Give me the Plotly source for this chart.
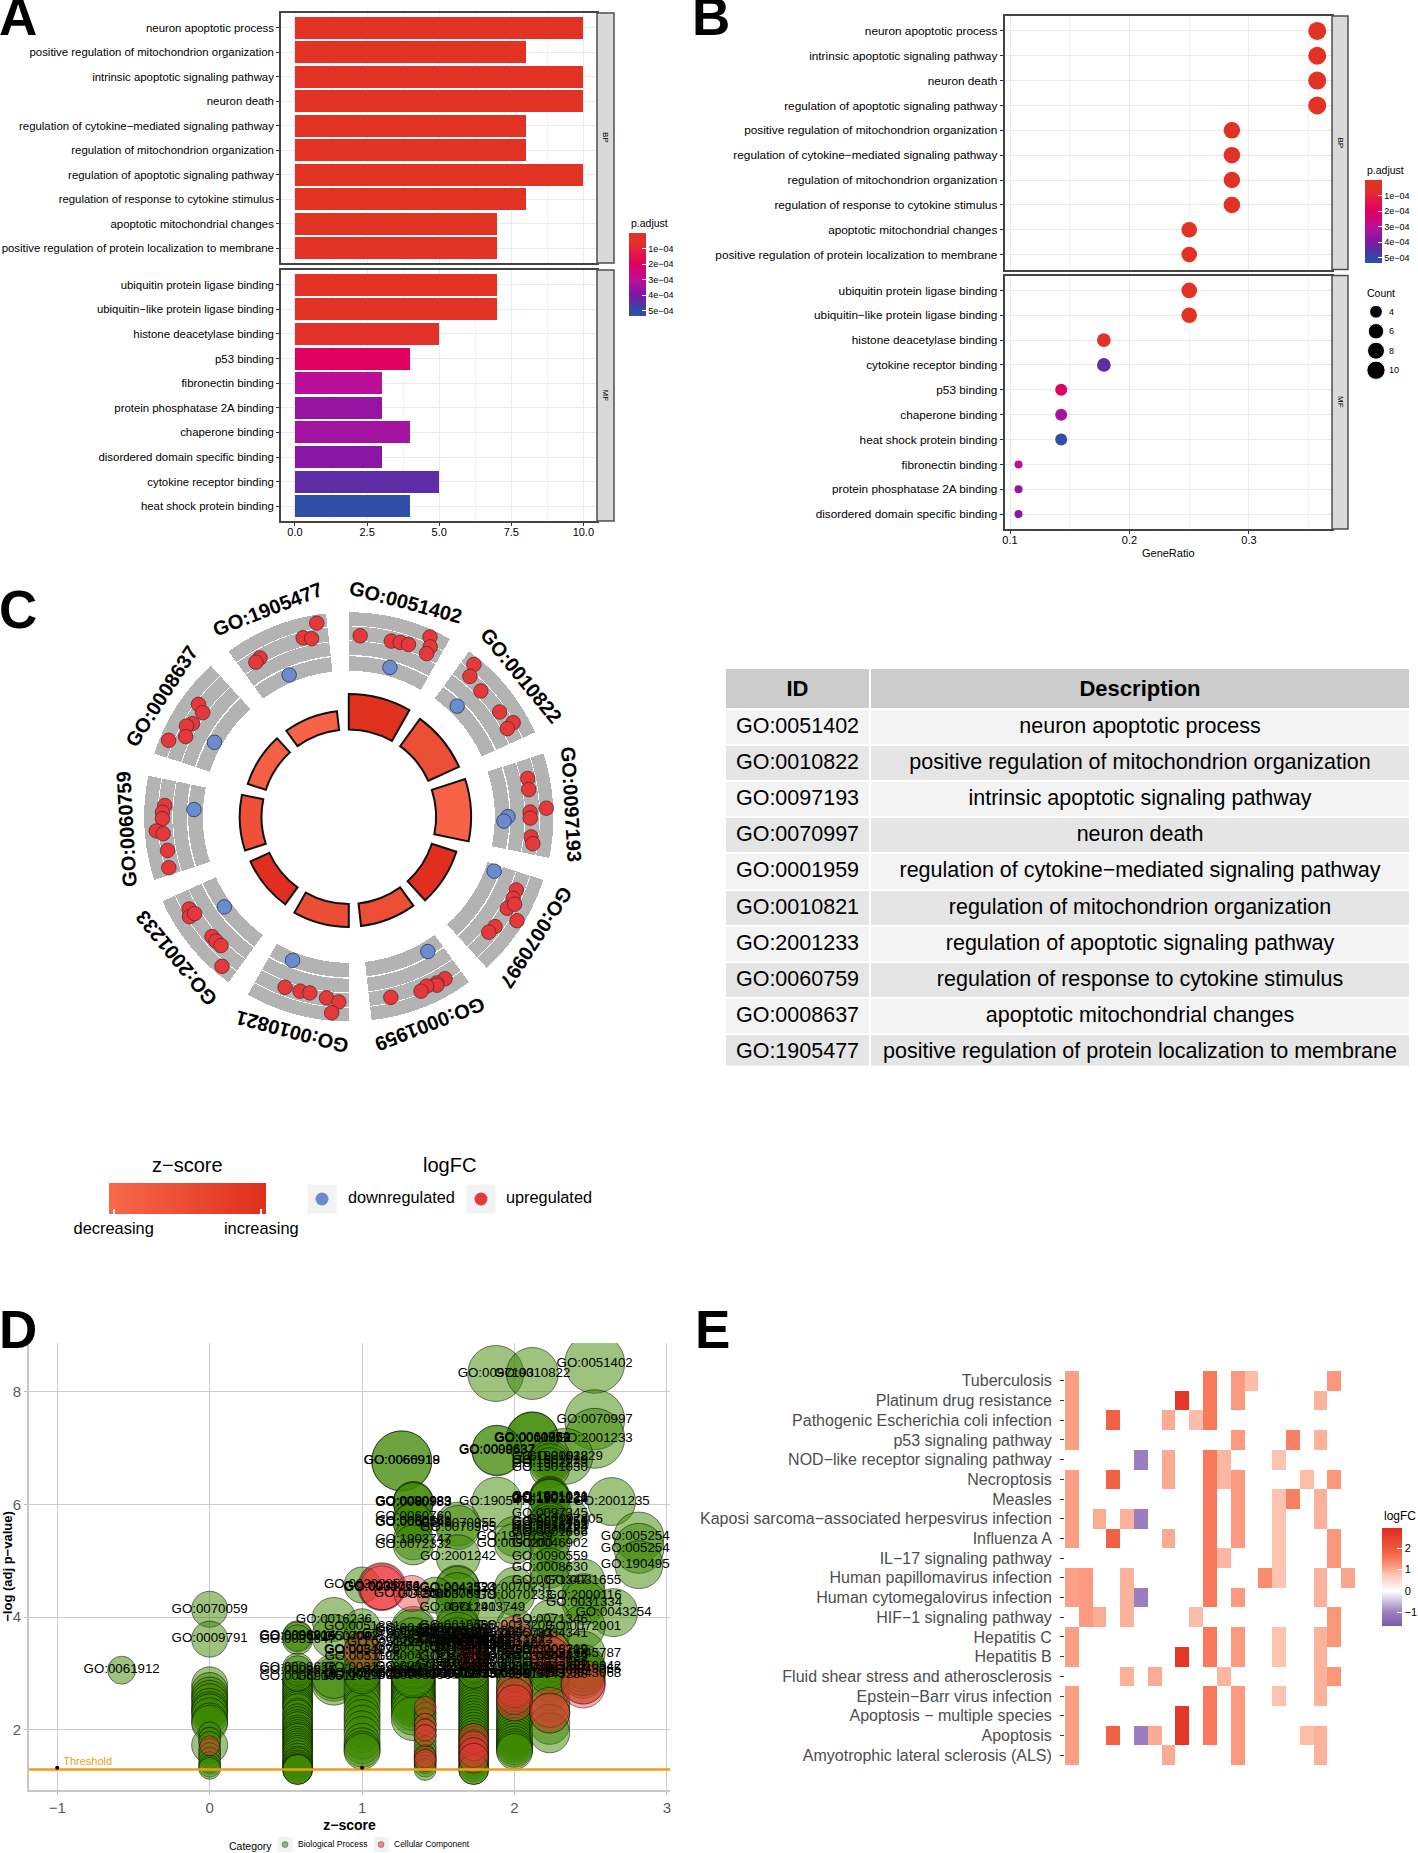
import numpy as np
import plotly.graph_objects as go

W, H = 1418, 1853
FONT = "Liberation Sans"

# ---------- panel A / B data ----------
a_bp_terms = ["neuron apoptotic process", "positive regulation of mitochondrion organization",
              "intrinsic apoptotic signaling pathway", "neuron death",
              "regulation of cytokine\u2212mediated signaling pathway", "regulation of mitochondrion organization",
              "regulation of apoptotic signaling pathway", "regulation of response to cytokine stimulus",
              "apoptotic mitochondrial changes", "positive regulation of protein localization to membrane"]
a_bp_count = [10, 8, 10, 10, 8, 8, 10, 8, 7, 7]
a_bp_padj = [2e-6, 3e-6, 3e-6, 3e-6, 5e-6, 5e-6, 6e-6, 8e-6, 1e-5, 1e-5]
a_mf_terms = ["ubiquitin protein ligase binding", "ubiquitin\u2212like protein ligase binding",
              "histone deacetylase binding", "p53 binding", "fibronectin binding",
              "protein phosphatase 2A binding", "chaperone binding", "disordered domain specific binding",
              "cytokine receptor binding", "heat shock protein binding"]
a_mf_count = [7, 7, 5, 4, 3, 3, 4, 3, 5, 4]
a_mf_padj = [1.2e-5, 1.2e-5, 6e-5, 2e-4, 3e-4, 3.6e-4, 3.4e-4, 3.8e-4, 4.4e-4, 5.3e-4]

b_bp_terms = ["neuron apoptotic process", "intrinsic apoptotic signaling pathway", "neuron death",
              "regulation of apoptotic signaling pathway", "positive regulation of mitochondrion organization",
              "regulation of cytokine\u2212mediated signaling pathway", "regulation of mitochondrion organization",
              "regulation of response to cytokine stimulus", "apoptotic mitochondrial changes",
              "positive regulation of protein localization to membrane"]
b_bp_count = [10, 10, 10, 10, 8, 8, 8, 8, 7, 7]
b_bp_padj = [2e-6, 3e-6, 3e-6, 6e-6, 3e-6, 5e-6, 5e-6, 8e-6, 1e-5, 1e-5]
b_mf_terms = ["ubiquitin protein ligase binding", "ubiquitin\u2212like protein ligase binding",
              "histone deacetylase binding", "cytokine receptor binding", "p53 binding", "chaperone binding",
              "heat shock protein binding", "fibronectin binding", "protein phosphatase 2A binding",
              "disordered domain specific binding"]
b_mf_count = [7, 7, 5, 5, 4, 4, 4, 3, 3, 3]
b_mf_padj = [1.2e-5, 1.2e-5, 6e-5, 4.4e-4, 2e-4, 3.4e-4, 5.3e-4, 3e-4, 3.6e-4, 3.8e-4]
gene_total = 28
count_legend = ["4", "6", "8", "10"]
padj_ticks = [1e-4, 2e-4, 3e-4, 4e-4, 5e-4]
padj_ticktext = ["1e\u221204", "2e\u221204", "3e\u221204", "4e\u221204", "5e\u221204"]

# ---------- panel C data ----------
go_ids = ["GO:0051402", "GO:0010822", "GO:0097193", "GO:0070997", "GO:0001959",
          "GO:0010821", "GO:2001233", "GO:0060759", "GO:0008637", "GO:1905477"]
go_desc = ["neuron apoptotic process", "positive regulation of mitochondrion organization",
           "intrinsic apoptotic signaling pathway", "neuron death",
           "regulation of cytokine\u2212mediated signaling pathway", "regulation of mitochondrion organization",
           "regulation of apoptotic signaling pathway", "regulation of response to cytokine stimulus",
           "apoptotic mitochondrial changes", "positive regulation of protein localization to membrane"]
sector_height = [35.4, 33.7, 35.0, 25.8, 22.5, 22.8, 20.8, 21.8, 19.0, 19.0]
sector_zscore = [0.95, 0.45, 0.10, 0.98, 0.45, 0.47, 0.98, 0.40, 0.15, 0.10]
up_theta = [3.6, 13.6, 16.4, 19.1, 24.3, 25.6, 25.5,
            39.4, 40.8, 46.4, 55.2, 60.2, 60.9,
            77.9, 81.4, 87.5, 88.5, 90.4, 96.3, 98.3,
            113.6, 116.4, 120, 117.8, 121.7, 126.9, 129.5,
            149.3, 152.1, 152.4, 155.3, 157.5, 166.9,
            200.5, 195.6, 192.5, 187, 183.1, 185,
            240, 237.9, 237.9, 228.8, 226.9, 224.8, 220.3,
            273.5, 271.4, 269.4, 265.8, 264.8, 259.5, 254.2,
            306.8, 305.5, 300.8, 299.2, 296.2, 293,
            350.6, 345.7, 348.2, 330.8, 329]
up_r = [181.4, 180.8, 181.8, 182.4, 197.3, 188.4, 180.8,
        197, 185.4, 182.4, 183.7, 189.4, 181.4,
        183, 182, 197.7, 181.4, 181.4, 183.4, 186,
        182.8, 183.4, 183, 187.4, 197.7, 182.8, 181.4,
        188.4, 188, 190, 186.4, 188.7, 185.4,
        182, 181, 180.4, 182.4, 185.4, 196.7,
        184.4, 188, 182, 181.8, 181.8, 181.4, 196,
        184.4, 186.4, 186.4, 193, 186.4, 184.4, 187,
        187.7, 179.4, 182, 186, 181.8, 195.7,
        196.4, 184.7, 182, 182, 180.4]
down_theta = [15.4, 44.4, 89.9, 91.6, 110.5, 149.6, 201.4, 234.1, 272.7, 299, 337.2]
down_r = [154.9, 154.9, 159.2, 155.2, 155.2, 156.2, 154.2, 153.6, 155, 153.6, 153.9]

# ---------- panel D data ----------
bp_ids = ["GO:0051402", "GO:0097193", "GO:0010822", "GO:0070997", "GO:2001233", "GO:0010821", "GO:0001959", "GO:0060759",
          "GO:0008637", "GO:0090637", "GO:0066918", "GO:0060919", "GO:2001229", "GO:1901028", "GO:1901029", "GO:1902229", "GO:1901030",
          "GO:0090983", "GO:0090989", "GO:0060983", "GO:1905475", "GO:1901021", "GO:1901026", "GO:1901222", "GO:1901224", "GO:2001235",
          "GO:0097345", "GO:0097805", "GO:0071456", "GO:0071453", "GO:0036293", "GO:0036294", "GO:0070482", "GO:0001666",
          "GO:0060760", "GO:0060561", "GO:0060548", "GO:1903747", "GO:0072332", "GO:0070955", "GO:0070965", "GO:2001242",
          "GO:1900739", "GO:0090200", "GO:0046902", "GO:0090559", "GO:0008630", "GO:0052548", "GO:0052547", "GO:1904950",
          "GO:0030225", "GO:0043523", "GO:0043524", "GO:0006979", "GO:2000378", "GO:0071241", "GO:1903749", "GO:0070231", "GO:0070233",
          "GO:0031655", "GO:0071347", "GO:2000116", "GO:0031334", "GO:0043254", "GO:0072001", "GO:0071346", "GO:0034341", "GO:0045787",
          "GO:0070059", "GO:0009791", "GO:0061912", "GO:0016236", "GO:0051881",
          "GO:0006914", "GO:0006915", "GO:0031647", "GO:0008622", "GO:0008625", "GO:0006919",
          "GO:0050709", "GO:0051172", "GO:0042149", "GO:0034976", "GO:0051193", "GO:0031398", "GO:0050701", "GO:0051090",
          "GO:0043409", "GO:0043122", "GO:0072593", "GO:0051092", "GO:0043123", "GO:0007159", "GO:0042176", "GO:0006986",
          "GO:0010506", "GO:0070301", "GO:0032271", "GO:0071363", "GO:0051604", "GO:1900180", "GO:0006521", "GO:0030162", "GO:0035966",
          "GO:0051341", "GO:0034599", "GO:0097190", "GO:0042542", "GO:0033209", "GO:0071222", "GO:0034097", "GO:0071345", "GO:1901989", "GO:0044772",
          "GO:0010942", "GO:0043065", "GO:0043068", "GO:0008219", "GO:0006839", "GO:0032956", "GO:0043281", "GO:2001056", "GO:0043280",
          "GO:0010951", "GO:0052548", "GO:0045862", "GO:0002237", "GO:0071219", "GO:0032496", "GO:0031396", "GO:0033157",
          "GO:0018105", "GO:0051726", "GO:0045926", "GO:0016241", "GO:0031667", "GO:0009617", "GO:0051222", "GO:0090316",
          "GO:0051223", "GO:0010038", "GO:0010564", "GO:0006417", "GO:0034248", "GO:0009991", "GO:0042594", "GO:0001959"]
bp_z = [2.526, 1.877, 2.117, 2.526, 2.526, 2.117, 2.117, 2.117,
        1.885, 1.885, 1.26, 1.26, 2.33, 2.231, 2.231, 2.231, 2.231,
        1.336, 1.336, 1.336, 1.885, 2.231, 2.231, 2.231, 2.231, 2.637,
        2.231, 2.33, 2.231, 2.231, 2.231, 2.231, 2.231, 2.231,
        1.336, 1.336, 1.336, 1.336, 1.336, 1.63, 1.63, 1.63,
        2.0, 2.0, 2.231, 2.231, 2.231, 2.816, 2.816, 2.816,
        1.0, 1.626, 1.626, 1.626, 1.48, 1.626, 1.82, 2.0, 2.0,
        2.45, 2.231, 2.456, 2.456, 2.65, 2.45, 2.231, 2.231, 2.45,
        0, 0, -0.577, 0.815, 1.0,
        0.577, 0.577, 0.577, 0.577, 0.577, 0.577,
        0.815, 0.815, 1.0, 1.0, 1.0, 1.0, 1.0, 1.0,
        1.336, 1.336, 1.336, 1.336, 1.336, 1.336, 1.336, 1.336,
        1.626, 1.626, 1.626, 1.626, 1.626, 1.626, 1.732, 1.732, 1.732,
        1.732, 1.732, 1.732, 1.732, 2.0, 2.0, 2.0, 2.0, 2.0, 2.0,
        2.45, 2.45, 2.45, 2.231, 2.231, 2.231, 2.231, 2.231, 2.231,
        1.5, 1.5, 1.55, 1.55, 1.6, 1.6, 1.68, 1.68,
        1.78, 1.78, 1.85, 1.85, 1.9, 1.9, 1.95, 1.95,
        1.15, 1.15, 1.25, 1.25, 1.45, 1.45, 1.8, 1.8]
bp_y = [8.50, 8.32, 8.32, 7.50, 7.17, 7.17, 7.17, 7.18,
        6.95, 6.96, 6.77, 6.77, 6.85, 6.85, 6.78, 6.72, 6.65,
        6.04, 6.05, 6.03, 6.04, 6.14, 6.12, 6.10, 6.09, 6.05,
        5.84, 5.72, 5.70, 5.67, 5.62, 5.58, 5.53, 5.50,
        5.78, 5.69, 5.67, 5.37, 5.28, 5.65, 5.59, 5.07,
        5.43, 5.30, 5.30, 5.07, 4.87, 5.42, 5.22, 4.93,
        4.57, 4.53, 4.51, 4.40, 4.39, 4.17, 4.17, 4.53, 4.38,
        4.64, 4.64, 4.38, 4.26, 4.08, 3.83, 3.95, 3.71, 3.36,
        4.14, 3.61, 3.06, 3.96, 3.83,
        3.67, 3.65, 3.60, 3.10, 3.05, 2.95,
        3.66, 2.95, 3.66, 3.42, 3.30, 3.10, 3.00, 2.96,
        3.80, 3.75, 3.60, 3.45, 3.30, 3.12, 3.00, 2.96,
        3.85, 3.80, 3.70, 3.60, 3.45, 3.30, 3.70, 3.60, 3.50,
        3.40, 3.20, 3.10, 3.00, 3.85, 3.60, 3.50, 3.30, 3.10, 3.00,
        3.12, 3.06, 3.00, 3.42, 3.30, 3.20, 3.12, 3.05, 2.98,
        3.75, 3.10, 3.60, 3.00, 3.70, 3.15, 3.55, 2.98,
        3.65, 3.05, 3.50, 3.00, 3.40, 3.10, 3.55, 2.98,
        3.55, 3.00, 3.70, 3.05, 3.55, 2.98, 3.75, 3.25]
bp_count = [15, 14, 13, 15, 15, 13, 13, 13,
            12.5, 12.5, 15, 15, 14, 10, 10, 10, 10,
            10, 10, 10, 12.5, 10, 10, 10, 10, 12,
            11, 12, 10, 10, 10, 10, 10, 10,
            10, 10, 10, 10, 10, 11, 11, 11,
            10, 10, 10, 10, 10, 12.5, 12.5, 12,
            9, 11, 11, 11, 9, 11, 9, 10, 10,
            11, 10, 11, 11, 12, 11, 10, 10, 11,
            9, 9, 7, 11, 9,
            7.5, 7.5, 7.5, 7.5, 7.5, 7.5,
            11, 11, 9, 9, 9, 9, 9, 9,
            11, 11, 11, 11, 11, 11, 11, 11,
            11, 11, 11, 11, 11, 11, 7.5, 7.5, 7.5,
            7.5, 7.5, 7.5, 7.5, 9, 9, 9, 9, 9, 9,
            11, 11, 11, 10, 10, 10, 10, 10, 10,
            6, 6, 6, 6, 6, 6, 6, 6,
            6, 6, 6, 6, 6, 6, 6, 6,
            6, 6, 6, 6, 6, 6, 6, 6]
tail_z = [0, 0, 0.577, 0.815, 1, 1.336, 1.414, 1.732, 2, 2.231, 2.45]
tail_count = [9, 5.5, 7.5, 11, 9, 11, 5.5, 7.5, 9, 10, 11]
tail_y = [
    [2.8, 2.7, 2.62, 2.56, 2.5, 2.42, 2.36, 2.32, 2.25, 2.16, 2.12, 1.73],
    [1.95, 1.85, 1.78, 1.66, 1.58, 1.5, 1.42, 1.36, 1.32],
    [2.9, 2.85, 2.82, 2.75, 2.7, 2.66, 2.6, 2.55, 2.5, 2.46, 2.42, 2.38, 2.3, 2.27, 2.2, 2.15, 2.1, 2.06, 2.0,
     1.96, 1.92, 1.88, 1.85, 1.8, 1.76, 1.72, 1.68, 1.64, 1.6, 1.55, 1.5, 1.45, 1.42, 1.38, 1.35, 1.32, 1.3, 1.3],
    [2.9, 2.83],
    [2.9, 2.82, 2.75, 2.68, 2.6, 2.52, 2.42, 2.3, 2.22, 2.12, 2.02, 1.92, 1.8, 1.72, 1.66, 1.62],
    [2.9, 2.84, 2.78, 2.72, 2.66, 2.6, 2.55, 2.5, 2.45, 2.38, 2.3, 2.2],
    [2.3, 2.2, 2.1, 2.0, 1.9, 1.8, 1.7, 1.62, 1.55, 1.48, 1.42, 1.36, 1.3],
    [2.9, 2.84, 2.78, 2.72, 2.66, 2.6, 2.55, 2.5, 2.45, 2.4, 2.35, 2.3, 2.25, 2.2, 2.15, 2.1, 2.05, 2.0, 1.95, 1.9,
     1.85, 1.8, 1.75, 1.7, 1.65, 1.6, 1.55, 1.5, 1.45, 1.4, 1.35, 1.3, 1.3],
    [2.9, 2.8, 2.7, 2.6, 2.5, 2.42, 2.35, 2.28, 2.2, 2.14, 2.08, 2.02, 1.96, 1.9, 1.85, 1.8, 1.75, 1.7, 1.66, 1.62],
    [2.85, 2.7, 2.5, 2.3, 2.1, 1.95],
    [2.95, 2.85],
]
cc_ids = ["GO:0034774", "GO:0005766", "GO:0031093", "GO:0042581", "GO:0051179", "GO:0030141", "GO:0031983", "GO:0060205", "GO:0098791",
          "GO:0005783", "GO:0005789", "GO:0044429"]
cc_z = [1.13, 1.13, 1.13, 1.327, 1.0, 1.732, 1.732, 1.732, 1.732, 2.0, 2.231, 2.231]
cc_y = [4.54, 4.54, 4.52, 4.42, 3.40, 3.55, 3.45, 3.35, 3.25, 3.70, 3.40, 3.30]
cc_count = [12, 11.5, 11, 9, 9, 7.5, 7.5, 7.5, 7.5, 9, 10, 10]
cc_tail_z = [0, 1.414, 1.414, 1.732, 2, 2.231, 2.45]
cc_tail_count = [5, 5.5, 5.5, 7.5, 9, 10, 11]
cc_tail_y = [[1.72], [2.4, 2.1, 2.0, 1.9], [1.52, 1.46], [1.85, 1.72, 1.6, 1.5], [2.72, 2.6, 2.48], [2.4, 2.3], [2.85, 2.78]]
threshold_value = 1.3
threshold_z = [-1.185, 3.02]
tiny_z = [-1, 1]
tiny_y = [1.33, 1.33]

# ---------- panel E data ----------
pathways = ["Tuberculosis", "Platinum drug resistance", "Pathogenic Escherichia coli infection", "p53 signaling pathway",
            "NOD\u2212like receptor signaling pathway", "Necroptosis", "Measles",
            "Kaposi sarcoma\u2212associated herpesvirus infection", "Influenza A", "IL\u221217 signaling pathway",
            "Human papillomavirus infection", "Human cytomegalovirus infection", "HIF\u22121 signaling pathway",
            "Hepatitis C", "Hepatitis B", "Fluid shear stress and atherosclerosis", "Epstein\u2212Barr virus infection",
            "Apoptosis \u2212 multiple species", "Apoptosis", "Amyotrophic lateral sclerosis (ALS)"]
gene_logfc = [1.1, 1.15, 1.0, 1.85, 0.95, -1.0, 1.0, 1.0, 2.7, 0.85, 1.5, 0.9, 1.15, 0.85, 1.3, 0.8, 1.45, 0.85, 0.95, 1.2, 1.05]
pathway_genes = [[0, 10, 12, 13, 19], [0, 8, 10, 12, 18], [0, 3, 7, 9, 10], [0, 12, 16, 18], [5, 7, 10, 11, 15],
                 [0, 3, 7, 10, 11, 12, 17, 19], [0, 10, 12, 15, 16, 18], [0, 2, 4, 5, 10, 12, 15, 18], [0, 3, 7, 10, 12, 15, 19],
                 [10, 11, 15, 19], [0, 1, 4, 10, 14, 15, 18, 20], [0, 1, 4, 5, 10, 12, 18], [1, 2, 4, 9, 19],
                 [0, 10, 12, 15, 18, 19], [0, 8, 10, 12, 15, 18], [4, 6, 11, 18, 19], [0, 10, 12, 15, 18],
                 [0, 8, 10, 12], [0, 3, 5, 6, 8, 10, 12, 17, 18], [0, 7, 12, 18]]
logfc_ticks = [-1, 0, 1, 2]


# ---------- helpers ----------
def xd(a, b):
    return [a / W, b / W]


def yd(top, bottom):
    return [1 - bottom / H, 1 - top / H]


annotations = []
shapes = []


def ann(text, x, y, size, anchor="center", color="black", angle=0, bold=False):
    annotations.append(dict(text=f"<b>{text}</b>" if bold else text, x=x / W, y=1 - y / H, xref="paper", yref="paper",
                            showarrow=False, xanchor=anchor, yanchor="middle", textangle=angle,
                            font=dict(size=size, color=color, family=FONT)))


def strip(x0, x1, y0, y1, label, tx, ty):
    shapes.append(dict(type="rect", xref="paper", yref="paper", x0=x0 / W, x1=x1 / W, y0=1 - y0 / H, y1=1 - y1 / H,
                       fillcolor="#D9D9D9", line=dict(color="#4D4D4D", width=1.5)))
    ann(label, tx, ty, 8, angle=90)


fig = go.Figure()
PANEL = dict(showline=True, mirror=True, linecolor="#444444", linewidth=1.6, zeroline=False, gridcolor="#EBEBEB", gridwidth=1.4)
# the colour bars run downwards (small p.adjust on top), so the colours are drawn from -p.adjust
padj_scale = [[0, "#2F4EA8"], [0.062, "#2F4AA6"], [0.25, "#7D18A6"], [0.437, "#BB0F9A"], [0.625, "#DF0060"],
              [0.8, "#E51F40"], [0.88, "#E2302A"], [1, "#E13223"]]


def neg(values):
    return [-v for v in values]


def padj_axis(x, y):
    return dict(colorscale=padj_scale, cmin=-5.33e-4, cmax=0,
                colorbar=dict(x=x / W, xanchor="left", xpad=0, ypad=0, y=1 - y / H, yanchor="top", lenmode="pixels", len=83,
                              thicknessmode="pixels", thickness=17, tickvals=neg(padj_ticks), ticktext=padj_ticktext,
                              ticks="inside", tickcolor="white", ticklen=4, tickwidth=1, outlinewidth=0,
                              tickfont=dict(size=9, family=FONT, color="black"), ticklabelposition="outside"))


# ---------- Panel A ----------
TFA = dict(size=11.4, color="black", family=FONT)
for terms, count, padj, xa, ya, dom in [(a_bp_terms, a_bp_count, a_bp_padj, "x", "y", (13, 263)),
                                        (a_mf_terms, a_mf_count, a_mf_padj, "x2", "y2", (270, 521))]:
    fig.add_trace(go.Bar(x=count, y=terms, orientation="h", width=0.9, xaxis=xa, yaxis=ya, showlegend=False,
                         marker=dict(color=neg(padj), coloraxis="coloraxis", line_width=0)))
    n = "" if xa == "x" else "2"
    fig.layout["xaxis" + n] = dict(PANEL, domain=xd(281, 597), range=[-0.485, 10.47], anchor=ya, tickvals=[0, 2.5, 5, 7.5, 10],
                                   ticktext=["0.0", "2.5", "5.0", "7.5", "10.0"], tickfont=dict(TFA, size=11), ticks="outside", ticklen=3,
                                   tickcolor="#333333", showticklabels=(xa == "x2"), ticklabelstandoff=-3,
                                   minor=dict(dtick=1.25, showgrid=True, gridcolor="#F1F1F1", gridwidth=0.8))
    if xa == "x":
        fig.layout["xaxis"].ticks = ""
    fig.layout["yaxis" + n] = dict(PANEL, domain=yd(*dom), range=[9.6, -0.6], anchor=xa, type="category", tickfont=TFA, ticks="outside",
                                   ticklen=3, tickcolor="#333333", categoryorder="array", categoryarray=terms)
strip(597, 614, 13, 263, "BP", 605.5, 137.5)
strip(597, 614, 270, 521, "MF", 605.5, 395)
ann("p.adjust", 629, 223.5, 10.5, "left")
ann("A", -3, 17, 53, "left", bold=True)

# ---------- Panel B ----------
count_px = [3, 4, 5, 7, 8, 10]
px_for_count = [8, 12, 13.7, 15.6, 16.5, 18]
TFB = dict(size=11.8, color="black", family=FONT)
for terms, count, padj, xa, ya, dom in [(b_bp_terms, b_bp_count, b_bp_padj, "x3", "y3", (16, 269.5)),
                                        (b_mf_terms, b_mf_count, b_mf_padj, "x4", "y4", (275.5, 529))]:
    fig.add_trace(go.Scatter(x=np.array(count) / gene_total, y=terms, mode="markers", xaxis=xa, yaxis=ya, showlegend=False,
                             marker=dict(color=neg(padj), coloraxis="coloraxis2", size=np.interp(count, count_px, px_for_count),
                                         line_width=0, opacity=1)))
    n = xa[1:]
    fig.layout["xaxis" + n] = dict(PANEL, domain=xd(1004.5, 1332), range=[0.0954, 0.3695], anchor=ya, tickvals=[0.1, 0.2, 0.3],
                                   ticktext=["0.1", "0.2", "0.3"], tickfont=dict(TFB, size=11), ticks="outside" if xa == "x4" else "", ticklen=3,
                                   tickcolor="#333333", showticklabels=(xa == "x4"), ticklabelstandoff=-3,
                                   minor=dict(tickvals=[0.15, 0.25, 0.35], showgrid=True, gridcolor="#F1F1F1", gridwidth=0.8))
    fig.layout["yaxis" + n] = dict(PANEL, domain=yd(*dom), range=[9.6, -0.6], anchor=xa, type="category", tickfont=TFB, ticks="outside",
                                   ticklen=3, tickcolor="#333333", categoryorder="array", categoryarray=terms)
fig.layout.xaxis4.title = dict(text="GeneRatio", font=dict(size=11, family=FONT, color="black"), standoff=4)
strip(1332, 1348, 16, 269.5, "BP", 1340, 142.5)
strip(1332, 1348, 275.5, 529, "MF", 1340, 402)
ann("p.adjust", 1365, 170, 10.5, "left")
ann("Count", 1365, 293, 10.5, "left")
ann("B", 690, 17, 53, "left", bold=True)
fig.add_trace(go.Scatter(x=[0] * 4, y=count_legend, mode="markers", xaxis="x7", yaxis="y7", showlegend=False,
                         marker=dict(color="black", size=[12.8, 15.5, 17, 18.3], opacity=1)))
fig.layout.xaxis7 = dict(domain=xd(1366, 1386), range=[-1, 1], visible=False, anchor="y7")
fig.layout.yaxis7 = dict(domain=yd(302, 380), range=[3.5, -0.5], type="category", categoryorder="array", categoryarray=count_legend,
                         side="right", anchor="x7", showline=False, showgrid=False, zeroline=False, ticks="", ticklabelstandoff=2,
                         tickfont=dict(size=9, family=FONT, color="black"))

# ---------- Panel C ----------
pitch, span, first_mid = 36.0, 29.6, 14.8
mids = [first_mid + pitch * k for k in range(10)]
track_base = [146.0, 161.9, 176.4, 191.2]
track_size = [14.5, 13.7, 14.0, 13.4]
for b, s in zip(track_base, track_size):
    fig.add_trace(go.Barpolar(theta=mids, r=[s] * 10, base=[b] * 10, width=[span] * 10, showlegend=False,
                              marker=dict(color="#B3B3B3", line_width=0), subplot="polar"))
fig.add_trace(go.Barpolar(theta=mids, r=sector_height, base=[87.3] * 10, width=[span] * 10, showlegend=False, subplot="polar",
                          marker=dict(color=sector_zscore, coloraxis="coloraxis4", line=dict(color="#111111", width=2))))
fig.add_trace(go.Scatterpolar(theta=up_theta, r=up_r, mode="markers", subplot="polar", showlegend=False,
                              marker=dict(size=14.5, color="#E5383B", line=dict(color="#5A2A2A", width=0.8))))
fig.add_trace(go.Scatterpolar(theta=down_theta, r=down_r, mode="markers", subplot="polar", showlegend=False,
                              marker=dict(size=14.5, color="#6A8CCF", line=dict(color="#2A3550", width=0.8))))
cx, cy, R = 348.8, 816.8, 210
fig.layout.polar = dict(domain=dict(x=xd(cx - R, cx + R), y=yd(cy - R, cy + R)), bgcolor="rgba(0,0,0,0)",
                        radialaxis=dict(visible=False, range=[0, R]),
                        angularaxis=dict(visible=False, rotation=90, direction="clockwise"))
for gid, m in zip(go_ids, mids):
    t = np.radians(m)
    ann(gid, cx + 222.5 * np.sin(t), cy - 222.5 * np.cos(t), 20, angle=m, bold=True)
ann("C", -3, 609, 53, "left", bold=True)
ann("z\u2212score", 188, 1165, 20)
ann("logFC", 449, 1165, 20)

# gradient legend of the z-score
fig.layout.coloraxis4 = dict(colorscale=[[0, "#F8694A"], [1, "#DF2E1D"]], cmin=0, cmax=1,
                             colorbar=dict(orientation="h", x=109 / W, xanchor="left", xpad=0, ypad=0, y=1 - 1183 / H, yanchor="top",
                                           lenmode="pixels", len=157, thicknessmode="pixels", thickness=31,
                                           tickvals=[0.03, 0.97], ticktext=["decreasing", "increasing"], ticks="inside",
                                           tickcolor="white", ticklen=5, tickwidth=1.5, outlinewidth=0,
                                           tickfont=dict(size=16.4, family=FONT, color="black")))
# logFC key
logfc_names = ["downregulated", "upregulated"]
logfc_key_x = [322, 481]
logfc_text_x = [348, 506]
fig.add_trace(go.Scatter(x=logfc_key_x, y=[0, 0], mode="markers", xaxis="x8", yaxis="y8", showlegend=False,
                         marker=dict(symbol="square", size=29, color="#F2F2F2")))
fig.add_trace(go.Scatter(x=logfc_key_x, y=[0, 0], mode="markers", xaxis="x8", yaxis="y8", showlegend=False,
                         marker=dict(size=13, color=["#6A8CCF", "#E5383B"])))
fig.add_trace(go.Scatter(x=logfc_text_x, y=[0, 0], mode="text", text=logfc_names, textposition="middle right", xaxis="x8", yaxis="y8",
                         showlegend=False, textfont=dict(size=16.3, family=FONT, color="black")))
fig.layout.xaxis8 = dict(domain=xd(300, 640), range=[300, 640], visible=False, anchor="y8")
fig.layout.yaxis8 = dict(domain=yd(1179, 1219), range=[-1, 1], visible=False, anchor="x8")

# ---------- table ----------
fig.add_trace(go.Table(domain=dict(x=xd(725, 1410), y=yd(667.5, 1066)), columnwidth=[145, 540],
                       header=dict(values=["<b>ID</b>", "<b>Description</b>"], fill_color="#CCCCCC", height=36,
                                   line=dict(color="white", width=2), align="center", font=dict(size=22, family=FONT, color="black")),
                       cells=dict(values=[go_ids, go_desc], height=36.2, align="center", line=dict(color="white", width=2),
                                  fill_color=[["#F3F3F3" if i % 2 == 0 else "#E5E5E5" for i in range(10)]] * 2,
                                  font=dict(size=21.5, family=FONT, color="black"))))

# ---------- Panel D ----------
GREEN = dict(color="rgba(60,135,0,0.5)", line=dict(color="rgba(0,0,0,0.5)", width=1), opacity=1)
RED = dict(color="rgba(238,50,55,0.42)", line=dict(color="rgba(0,0,0,0.45)", width=1), opacity=1)
DREF = 0.25
tz = [z for z, ys in zip(tail_z, tail_y) for _ in ys]
ty = [y for ys in tail_y for y in ys]
tc = [c for c, ys in zip(tail_count, tail_y) for _ in ys]
big = [i for i, c in enumerate(bp_count) if c > 6]
fig.add_trace(go.Scatter(x=tz, y=ty, mode="markers", xaxis="x5", yaxis="y5", showlegend=False,
                         marker=dict(GREEN, size=tc, sizemode="diameter", sizeref=DREF)))
fig.add_trace(go.Scatter(x=[bp_z[i] for i in big], y=[bp_y[i] for i in big], mode="markers", xaxis="x5", yaxis="y5", showlegend=False,
                         marker=dict(GREEN, size=[bp_count[i] for i in big], sizemode="diameter", sizeref=DREF)))
ctz = [z for z, ys in zip(cc_tail_z, cc_tail_y) for _ in ys]
cty = [y for ys in cc_tail_y for y in ys]
ctc = [c for c, ys in zip(cc_tail_count, cc_tail_y) for _ in ys]
fig.add_trace(go.Scatter(x=ctz + cc_z, y=cty + cc_y, mode="markers", xaxis="x5", yaxis="y5", showlegend=False,
                         marker=dict(RED, size=ctc + cc_count, sizemode="diameter", sizeref=DREF)))
fig.add_trace(go.Scatter(x=threshold_z, y=[threshold_value] * 2, mode="lines", xaxis="x5", yaxis="y5", showlegend=False,
                         line=dict(color="#F39C12", width=2.5)))
fig.add_trace(go.Scatter(x=tiny_z, y=tiny_y, mode="markers", xaxis="x5", yaxis="y5", showlegend=False, marker=dict(size=4, color="black")))
fig.add_trace(go.Scatter(x=[-0.8], y=[1.42], mode="text", text=["Threshold"], xaxis="x5", yaxis="y5", showlegend=False,
                         textfont=dict(size=11, color="#F39C12", family=FONT)))
fig.add_trace(go.Scatter(x=bp_z + cc_z, y=bp_y + cc_y, text=bp_ids + cc_ids, mode="text", xaxis="x5", yaxis="y5", showlegend=False,
                         textfont=dict(size=13.3, color="black", family=FONT)))
DAX = dict(showline=True, linecolor="#C8C8C8", linewidth=2, gridcolor="#CCCCCC", gridwidth=1.4, zeroline=False,
           ticks="outside", ticklen=3, tickcolor="#BBBBBB", tickfont=dict(size=15, family=FONT, color="#5A5A5A"))
fig.layout.xaxis5 = dict(DAX, domain=xd(29, 670), range=[-1.185, 3.02], tickvals=[-1, 0, 1, 2, 3], anchor="y5",
                         title=dict(text="<b>z\u2212score</b>", font=dict(size=14, family=FONT, color="black"), standoff=5))
fig.layout.yaxis5 = dict(DAX, domain=yd(1343, 1790), range=[0.936, 8.86], tickvals=[2, 4, 6, 8], anchor="x5",
                         title=dict(text="<b>\u2212log (adj p\u2212value)</b>", font=dict(size=13, family=FONT, color="black"), standoff=2))
ann("D", -3, 1329, 53, "left", bold=True)
cat_names = ["Biological Process", "Cellular Component"]
cat_key_x = [285, 381]
cat_text_x = [298, 394]
fig.add_trace(go.Scatter(x=cat_key_x, y=[0, 0], mode="markers", xaxis="x9", yaxis="y9", showlegend=False,
                         marker=dict(symbol="square", size=15, color="#F2F2F2")))
fig.add_trace(go.Scatter(x=cat_key_x, y=[0, 0], mode="markers", xaxis="x9", yaxis="y9", showlegend=False,
                         marker=dict(size=6, color=["rgba(60,135,0,0.55)", "rgba(238,50,55,0.55)"], line=dict(color="rgba(0,0,0,0.5)", width=0.6))))
fig.add_trace(go.Scatter(x=cat_text_x, y=[0, 0], mode="text", text=cat_names, textposition="middle right", xaxis="x9", yaxis="y9",
                         showlegend=False, textfont=dict(size=8.5, family=FONT, color="black")))
fig.layout.xaxis9 = dict(domain=xd(270, 480), range=[270, 480], visible=False, anchor="y9")
fig.layout.yaxis9 = dict(domain=yd(1836, 1853), range=[-1, 1], visible=False, anchor="x9")
ann("Category", 250, 1846, 10.5)

# ---------- Panel E ----------
z = [[gene_logfc[c] if c in cols else None for c in range(len(gene_logfc))] for cols in pathway_genes]
fig.add_trace(go.Heatmap(z=z, x=list(range(len(gene_logfc))), y=pathways, coloraxis="coloraxis3", xaxis="x6", yaxis="y6", hoverongaps=False))
fig.layout.xaxis6 = dict(domain=xd(1065, 1355), range=[-0.5, 20.5], visible=False, anchor="y6")
fig.layout.yaxis6 = dict(domain=yd(1371, 1765), range=[19.5, -0.5], type="category", categoryorder="array", categoryarray=pathways,
                         anchor="x6", showline=False, showgrid=False, zeroline=False, ticks="outside", ticklen=4, tickcolor="#333333",
                         ticklabelstandoff=5, tickfont=dict(size=16, family=FONT, color="#4D4D4D"))
cmin, cmax = -1.64, 2.95
nrm = lambda v: (v - cmin) / (cmax - cmin)
logfc_scale = [[0, "#7A5AA6"], [nrm(-1), "#9A7FC0"], [nrm(0), "#FFFFFF"], [nrm(0.8), "#FDC3B0"], [nrm(1.1), "#FB9F85"], [nrm(1.5), "#F87A5A"],
               [nrm(2), "#F0573A"], [1, "#DE2D20"]]
fig.layout.coloraxis3 = dict(colorscale=logfc_scale, cmin=cmin, cmax=cmax,
                             colorbar=dict(x=1382 / W, xanchor="left", xpad=0, ypad=0, y=1 - 1528 / H, yanchor="top", lenmode="pixels", len=98,
                                           thicknessmode="pixels", thickness=20, tickvals=logfc_ticks, ticks="inside", tickcolor="white",
                                           ticklen=5, outlinewidth=0, tickfont=dict(size=11, family=FONT, color="black")))
ann("logFC", 1382, 1516, 12, "left")
ann("E", 693, 1329, 53, "left", bold=True)

fig.update_layout(width=W, height=H, margin=dict(l=0, r=0, t=0, b=0, autoexpand=False), paper_bgcolor="white", plot_bgcolor="white",
                  font=dict(family=FONT), showlegend=False, annotations=annotations, shapes=shapes,
                  bargap=0,
                  coloraxis=padj_axis(629, 233), coloraxis2=padj_axis(1365, 180))
fig.write_html("out.html", post_script="document.body.style.margin='0';", config=dict(displayModeBar=False))
